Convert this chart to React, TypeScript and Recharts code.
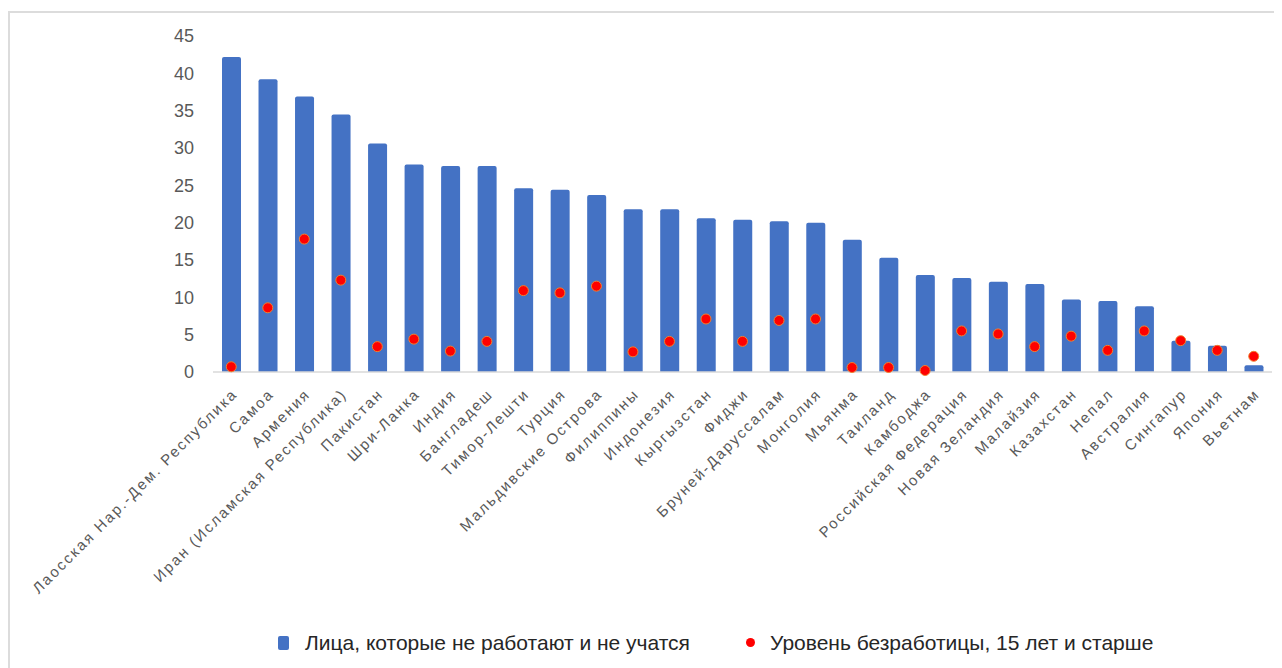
import React from "react";
import { ComposedChart, Bar, Line, XAxis, YAxis, Legend } from "recharts";

const categories = [
  "Лаосская Нар.-Дем. Республика",
  "Самоа",
  "Армения",
  "Иран (Исламская Республика)",
  "Пакистан",
  "Шри-Ланка",
  "Индия",
  "Бангладеш",
  "Тимор-Лешти",
  "Турция",
  "Мальдивские Острова",
  "Филиппины",
  "Индонезия",
  "Кыргызстан",
  "Фиджи",
  "Бруней-Даруссалам",
  "Монголия",
  "Мьянма",
  "Таиланд",
  "Камбоджа",
  "Российская Федерация",
  "Новая Зеландия",
  "Малайзия",
  "Казахстан",
  "Непал",
  "Австралия",
  "Сингапур",
  "Япония",
  "Вьетнам",
];

const neetValues = [
  42.2, 39.2, 36.9, 34.5, 30.6, 27.8, 27.6, 27.6, 24.6, 24.4, 23.7, 21.8, 21.8, 20.6, 20.4,
  20.2, 20.0, 17.7, 15.3, 13.0, 12.6, 12.1, 11.8, 9.7, 9.5, 8.8, 4.2, 3.5, 0.9,
];

const unemploymentValues = [
  0.7, 8.6, 17.8, 12.3, 3.4, 4.4, 2.8, 4.1, 10.9, 10.6, 11.5, 2.7, 4.1, 7.1, 4.1,
  6.9, 7.1, 0.6, 0.6, 0.2, 5.5, 5.1, 3.4, 4.8, 2.9, 5.5, 4.2, 2.9, 2.1,
];

const yTicks = [0, 5, 10, 15, 20, 25, 30, 35, 40, 45];

const seriesNames = {
  neet: "Лица, которые не работают и не учатся",
  unemp: "Уровень безработицы, 15 лет и старше",
};

const data = categories.map((name, i) => ({
  name,
  neet: neetValues[i],
  unemp: unemploymentValues[i],
}));

const TEXT_COLOR = "#595959";
const FONT = "'Liberation Sans', Arial, sans-serif";

const CategoryTick = (props: any) => {
  const { x, y, payload } = props;
  const ax = x + 7;
  const ay = y + 23;
  return (
    <text
      x={ax}
      y={ay}
      transform={`rotate(-45, ${ax}, ${ay})`}
      textAnchor="end"
      fill={TEXT_COLOR}
      fontSize={15}
      fontFamily={FONT}
      letterSpacing={2}
    >
      {payload.value}
    </text>
  );
};

const LegendContent = () => (
  <div
    style={{
      position: "relative",
      height: 50,
      width: 1274,
      fontFamily: FONT,
      fontSize: 21,
      color: "#262626",
    }}
  >
    <div
      style={{
        position: "absolute",
        left: 270,
        top: 18,
        width: 11,
        height: 14,
        borderRadius: 2,
        background: "#4472C4",
      }}
    />
    <div style={{ position: "absolute", left: 297, top: 13, whiteSpace: "nowrap" }}>
      {seriesNames.neet}
    </div>
    <div
      style={{
        position: "absolute",
        left: 738,
        top: 20,
        width: 9,
        height: 9,
        borderRadius: "50%",
        background: "#FF0000",
      }}
    />
    <div style={{ position: "absolute", left: 762, top: 13, whiteSpace: "nowrap" }}>
      {seriesNames.unemp}
    </div>
  </div>
);

export default function App() {
  return (
    <div style={{ position: "relative", width: 1274, height: 660 }}>
      <div
        style={{
          position: "absolute",
          left: 0,
          top: 3,
          width: 1274,
          height: 657,
          borderTop: "2px solid #dcdcdc",
          borderLeft: "2px solid #dcdcdc",
          boxSizing: "border-box",
        }}
      />
      <ComposedChart
        width={1274}
        height={660}
        data={data}
        margin={{ top: 28, right: 10, bottom: 0, left: 0 }}
        barCategoryGap={0}
      >
        <XAxis
          dataKey="name"
          interval={0}
          tickLine={false}
          tickSize={0}
          tickMargin={0}
          axisLine={{ stroke: "#d9d9d9", strokeWidth: 1.5 }}
          tick={<CategoryTick />}
          height={246}
        />
        <YAxis
          domain={[0, 45]}
          ticks={yTicks}
          interval={0}
          axisLine={false}
          tickLine={false}
          tickSize={0}
          tickMargin={19}
          width={205}
          tick={{ fill: TEXT_COLOR, fontSize: 18, fontFamily: FONT }}
        />
        <Legend verticalAlign="bottom" height={50} content={<LegendContent />} wrapperStyle={{ left: 0, width: 1274 }} />
        <Bar
          dataKey="neet"
          name={seriesNames.neet}
          fill="#4472C4"
          barSize={19}
          radius={[2, 2, 0, 0]}
          isAnimationActive={false}
        />
        <Line
          dataKey="unemp"
          name={seriesNames.unemp}
          stroke="none"
          dot={{ r: 5, fill: "#FF0000", stroke: "#F08030", strokeWidth: 1 }}
          activeDot={false}
          isAnimationActive={false}
        />
      </ComposedChart>
    </div>
  );
}
